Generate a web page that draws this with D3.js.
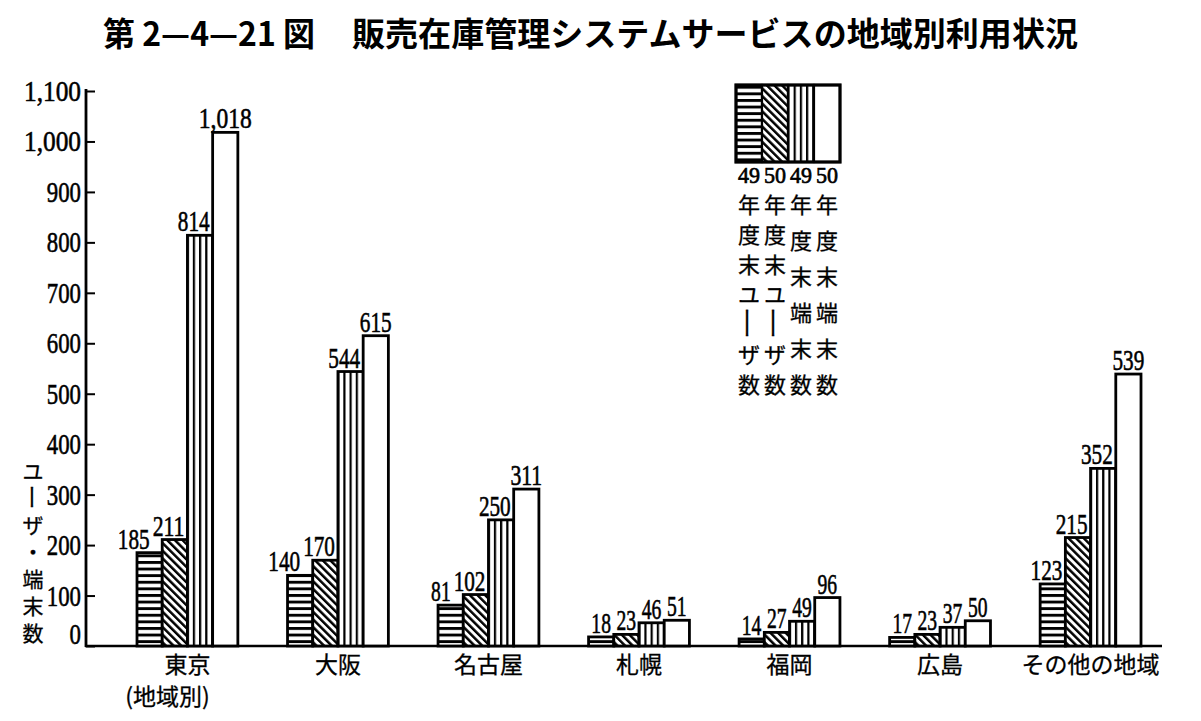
<!DOCTYPE html>
<html><head><meta charset="utf-8">
<script src="https://cdn.jsdelivr.net/npm/d3@7/dist/d3.min.js"></script>
<style>
html,body{margin:0;padding:0;background:#fff;}
svg{display:block;}
</style></head>
<body>
<svg id="chart" width="1201" height="721"></svg>
<script>
// ---- data ----
const categories = ["東京","大阪","名古屋","札幌","福岡","広島","その他の地域"];
const series = ["49年度末ユーザ数","50年度末ユーザ数","49年度末端末数","50年度末端末数"];
const users49 = [185,140,81,18,14,17,123];
const users50 = [211,170,102,23,27,23,215];
const terminals49 = [814,544,250,46,49,37,352];
const terminals50 = [1018,615,311,51,96,50,539];
const yTicks = [0,100,200,300,400,500,600,700,800,900,1000,1100];
const yTickLabels = ["0","100","200","300","400","500","600","700","800","900","1,000","1,100"];
const yTitle = "ユーザ・端末数";
const tokyoSub = "(地域別)";
const titleNum = "第 2—4—21 図";
const titleText = "販売在庫管理システムサービスの地域別利用状況";

const seriesValues = [users49, users50, terminals49, terminals50];
const patternIds = ["p-h","p-d","p-v",null];

const svg = d3.select("#chart");
const JP = "'Noto Sans CJK JP','Noto Sans',sans-serif";
const SERIF = "'Liberation Serif','DejaVu Serif',serif";

// ---- patterns ----
const defs = svg.append("defs");
const ph = defs.append("pattern").attr("id","p-h").attr("patternUnits","userSpaceOnUse")
  .attr("width",8).attr("height",6.6);
ph.append("rect").attr("width",8).attr("height",6.6).attr("fill","#fff");
ph.append("rect").attr("width",8).attr("height",2.9).attr("fill","#000");
const pd = defs.append("pattern").attr("id","p-d").attr("patternUnits","userSpaceOnUse")
  .attr("width",5.4).attr("height",10).attr("patternTransform","rotate(-45)");
pd.append("rect").attr("width",5.4).attr("height",10).attr("fill","#fff");
pd.append("rect").attr("width",2.5).attr("height",10).attr("fill","#000");
const pv = defs.append("pattern").attr("id","p-v").attr("patternUnits","userSpaceOnUse")
  .attr("width",6.2).attr("height",10);
pv.append("rect").attr("width",6.2).attr("height",10).attr("fill","#fff");
pv.append("rect").attr("width",2.2).attr("height",10).attr("fill","#000");
const fillFor = i => patternIds[i] ? `url(#${patternIds[i]})` : "#fff";

// ---- scales ----
const y = d3.scaleLinear().domain([0,1100]).range([646,91]);
const x0 = d3.scaleBand().domain(categories).range([137,1141]).paddingInner(0.33).paddingOuter(0);
const x1 = d3.scaleBand().domain(d3.range(series.length)).range([0,x0.bandwidth()]).padding(0);

// ---- title ----
svg.append("text").attr("x",103).attr("y",46).attr("font-family",JP).attr("font-weight","bold")
  .attr("font-size",33).attr("textLength",212).attr("lengthAdjust","spacingAndGlyphs").text(titleNum);
svg.append("text").attr("x",352).attr("y",46).attr("font-family",JP).attr("font-weight","bold")
  .attr("font-size",33).attr("textLength",726).attr("lengthAdjust","spacingAndGlyphs").text(titleText);

// vertical char helper (ー drawn rotated & stretched)
function vchar(g, c, cx, cy, size, stretch){
  const t = g.append("text").attr("x",cx).attr("y",cy).attr("text-anchor","middle")
    .attr("dominant-baseline","central").attr("font-family",JP).attr("font-size",size)
    .attr("stroke","#000").attr("stroke-width",0.3).text(c);
  if (c === "ー") t.attr("transform",`translate(${cx},${cy}) rotate(90) scale(${stretch},1) translate(${-cx},${-cy})`);
}

// ---- y axis ----
const axisX = 86;
const yAxis = d3.axisRight(y).tickValues(yTicks).tickSize(9).tickFormat("");
const gy = svg.append("g").attr("transform",`translate(${axisX},0)`).call(yAxis);
gy.select(".domain").remove();
gy.selectAll(".tick line").attr("stroke","#000").attr("stroke-width",2);
svg.append("line").attr("x1",axisX).attr("x2",axisX).attr("y1",89).attr("y2",y(0)+1)
  .attr("stroke","#000").attr("stroke-width",2.8);
svg.append("line").attr("x1",axisX-1).attr("x2",1162).attr("y1",y(0)).attr("y2",y(0))
  .attr("stroke","#000").attr("stroke-width",2.6);
svg.append("g").selectAll("text").data(yTicks).join("text")
  .attr("x",81).attr("y",d => Math.min(y(d), y(0)-12) + 10)
  .attr("text-anchor","end").attr("font-family",SERIF).attr("font-size",30)
  .attr("stroke","#000").attr("stroke-width",0.6)
  .attr("textLength",(d,i)=>yTickLabels[i].length*11.4).attr("lengthAdjust","spacingAndGlyphs")
  .text((d,i)=>yTickLabels[i]);

// y title (vertical)
const yg = svg.append("g");
const yChars = Array.from(yTitle);
const yStep = (632-470)/(yChars.length-1);
yChars.forEach((c,i)=> vchar(yg, c, 33, 470 + i*yStep, 21, 1.2));

// ---- bars ----
const groups = svg.append("g").selectAll("g").data(categories).join("g")
  .attr("transform",d=>`translate(${x0(d)},0)`);
groups.each(function(cat,ci){
  const g = d3.select(this);
  const vals = seriesValues.map(s=>s[ci]);
  g.selectAll("rect").data(vals).join("rect")
    .attr("x",(d,i)=>x1(i)).attr("y",d=>y(d))
    .attr("width",x1.bandwidth()).attr("height",d=>y(0)-y(d))
    .attr("fill",(d,i)=>fillFor(i)).attr("stroke","#000").attr("stroke-width",2.8);
  // value labels with simple overlap avoidance (right to left)
  const fmt = d3.format(",");
  const bw = x1.bandwidth();
  const labs = vals.map((v,i)=>{
    const t = fmt(v), w = t.length*(t.length<3 ? 9.8 : 10.6);
    return {t, w, v, i, cx: x1(i)+bw/2, base: y(v)-4, top: y(v)-4-21};
  });
  for (let i=labs.length-2;i>=0;i--){
    const L = labs[i];
    let maxRight = Infinity;
    const nb = labs[i+1];
    if (y(nb.v) < L.base) maxRight = Math.min(maxRight, x1(i+1)-3);
    const nLeft = nb.cx - nb.w/2;
    if (nb.top < L.base && nb.base > L.top) maxRight = Math.min(maxRight, nLeft-3);
    if (L.cx + L.w/2 > maxRight) L.cx = maxRight - L.w/2;
  }
  g.selectAll("text.val").data(labs).join("text").attr("class","val")
    .attr("x",d=>d.cx).attr("y",d=>d.base).attr("text-anchor","middle")
    .attr("font-family",SERIF).attr("font-size",30)
    .attr("stroke","#000").attr("stroke-width",0.6)
    .attr("textLength",d=>d.w).attr("lengthAdjust","spacingAndGlyphs").text(d=>d.t);
});

// category labels
svg.append("g").selectAll("text").data(categories).join("text")
  .attr("x",d=>x0(d)+x0.bandwidth()/2).attr("y",673).attr("text-anchor","middle")
  .attr("font-family",JP).attr("font-size",23).attr("stroke","#000").attr("stroke-width",0.3).text(d=>d);
svg.append("text").attr("x",x0(categories[0])+x0.bandwidth()/2-20).attr("y",705)
  .attr("text-anchor","middle").attr("font-family",JP).attr("font-size",23)
  .attr("stroke","#000").attr("stroke-width",0.3).text(tokyoSub);

// ---- legend ----
const lx = d3.scaleBand().domain(d3.range(series.length)).range([736,840]);
const lg = svg.append("g");
lg.selectAll("rect.sw").data(series).join("rect").attr("class","sw")
  .attr("x",(d,i)=>lx(i)).attr("y",85).attr("width",lx.bandwidth()).attr("height",77)
  .attr("fill",(d,i)=>fillFor(i)).attr("stroke","#000").attr("stroke-width",2.2);
lg.append("rect").attr("x",736).attr("y",85).attr("width",104).attr("height",77)
  .attr("fill","none").attr("stroke","#000").attr("stroke-width",3.2);
series.forEach((s,i)=>{
  const cx = lx(i)+lx.bandwidth()/2;
  lg.append("text").attr("x",cx).attr("y",183).attr("text-anchor","middle")
    .attr("font-family",SERIF).attr("font-size",24).attr("textLength",22)
    .attr("stroke","#000").attr("stroke-width",0.7)
    .attr("lengthAdjust","spacingAndGlyphs").text(s.slice(0,2));
  const chars = Array.from(s.slice(2));
  const step = (383-203)/(chars.length-1);
  chars.forEach((c,k)=> vchar(lg, c, cx, 203 + k*step, 22, 1.5));
});
</script>
</body></html>
